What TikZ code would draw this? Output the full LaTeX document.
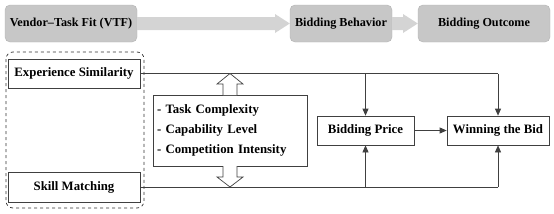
\documentclass[tikz,border=0pt]{standalone}
\usepackage{fontspec}
\setmainfont{Liberation Serif}
\usetikzlibrary{arrows.meta}
\begin{document}
\begin{tikzpicture}[x=1pt,y=-1pt,
  font=\bfseries\fontsize{12.8}{14}\selectfont,
  topbox/.style={draw=gray!60,fill=black!22,rounded corners=5pt,inner sep=0pt,font=\bfseries\fontsize{12.2}{14}\selectfont},
  plainbox/.style={draw=black!75,line width=0.7pt,inner sep=0pt},
  conn/.style={draw=black!75,line width=0.7pt},
  tip/.style={-{Triangle[length=7pt,width=6pt]}},
  fatarrow/.style={fill=black!17,draw=none},
  hollow/.style={draw=black!75,fill=white,line width=0.7pt}]
\useasboundingbox (0,0) rectangle (554,214);
% top row
\node[topbox,minimum width=132pt,minimum height=37pt] (vtf) at (71,23.5) {Vendor–Task Fit (VTF)};
\node[topbox,minimum width=102pt,minimum height=37pt] (bb) at (341,23.5) {Bidding Behavior};
\node[topbox,minimum width=132pt,minimum height=37pt] (bo) at (484,23.5) {Bidding Outcome};
\fill[fatarrow] (vtf.east|-0,17) -- (275,17) -- (275,14) -- (bb.west) -- (275,33) -- (275,30) -- (vtf.east|-0,30) -- cycle;
\fill[fatarrow] (bb.east|-0,17) -- (403,17) -- (403,14) -- (bo.west) -- (403,33) -- (403,30) -- (bb.east|-0,30) -- cycle;
% left group
\draw[dashed,rounded corners=7pt,line width=0.7pt,draw=black!80] (6,52) rectangle (144,208);
\node[plainbox,minimum width=132pt,minimum height=29pt] (es) at (74,73.5) {Experience Similarity};
\node[plainbox,minimum width=132pt,minimum height=30pt] (sm) at (74,187) {Skill Matching};
% moderators
\node[plainbox,minimum width=154pt,minimum height=71pt,align=left,text width=146pt] (mod) at (230,130.5)
  {- Task Complexity\\[6pt]- Capability Level\\[6pt]- Competition Intensity};
% outcome boxes
\node[plainbox,minimum width=97pt,minimum height=29pt] (bp) at (365.5,130.5) {Bidding Price};
\node[plainbox,minimum width=102pt,minimum height=29pt] (wb) at (498,130.5) {Winning the Bid};
% connectors
\coordinate (tr) at (498,73.5);
\coordinate (br) at (498,187);
\draw[conn] (es.east) -- (tr);
\draw[conn] (sm.east) -- (br);
\draw[conn,tip] (bp.north|-tr) -- (bp.north);
\draw[conn,tip] (tr) -- (wb.north);
\draw[conn,tip] (bp.south|-br) -- (bp.south);
\draw[conn,tip] (br) -- (wb.south);
\draw[conn,tip] (bp.east) -- (wb.west);
% hollow arrows
\draw[hollow] (223,95) -- (223,84) -- (217,84) -- (230,73.5) -- (243,84) -- (237,84) -- (237,95);
\draw[hollow] (223,166) -- (223,177) -- (217,177) -- (230,187) -- (243,177) -- (237,177) -- (237,166);
\end{tikzpicture}
\end{document}
